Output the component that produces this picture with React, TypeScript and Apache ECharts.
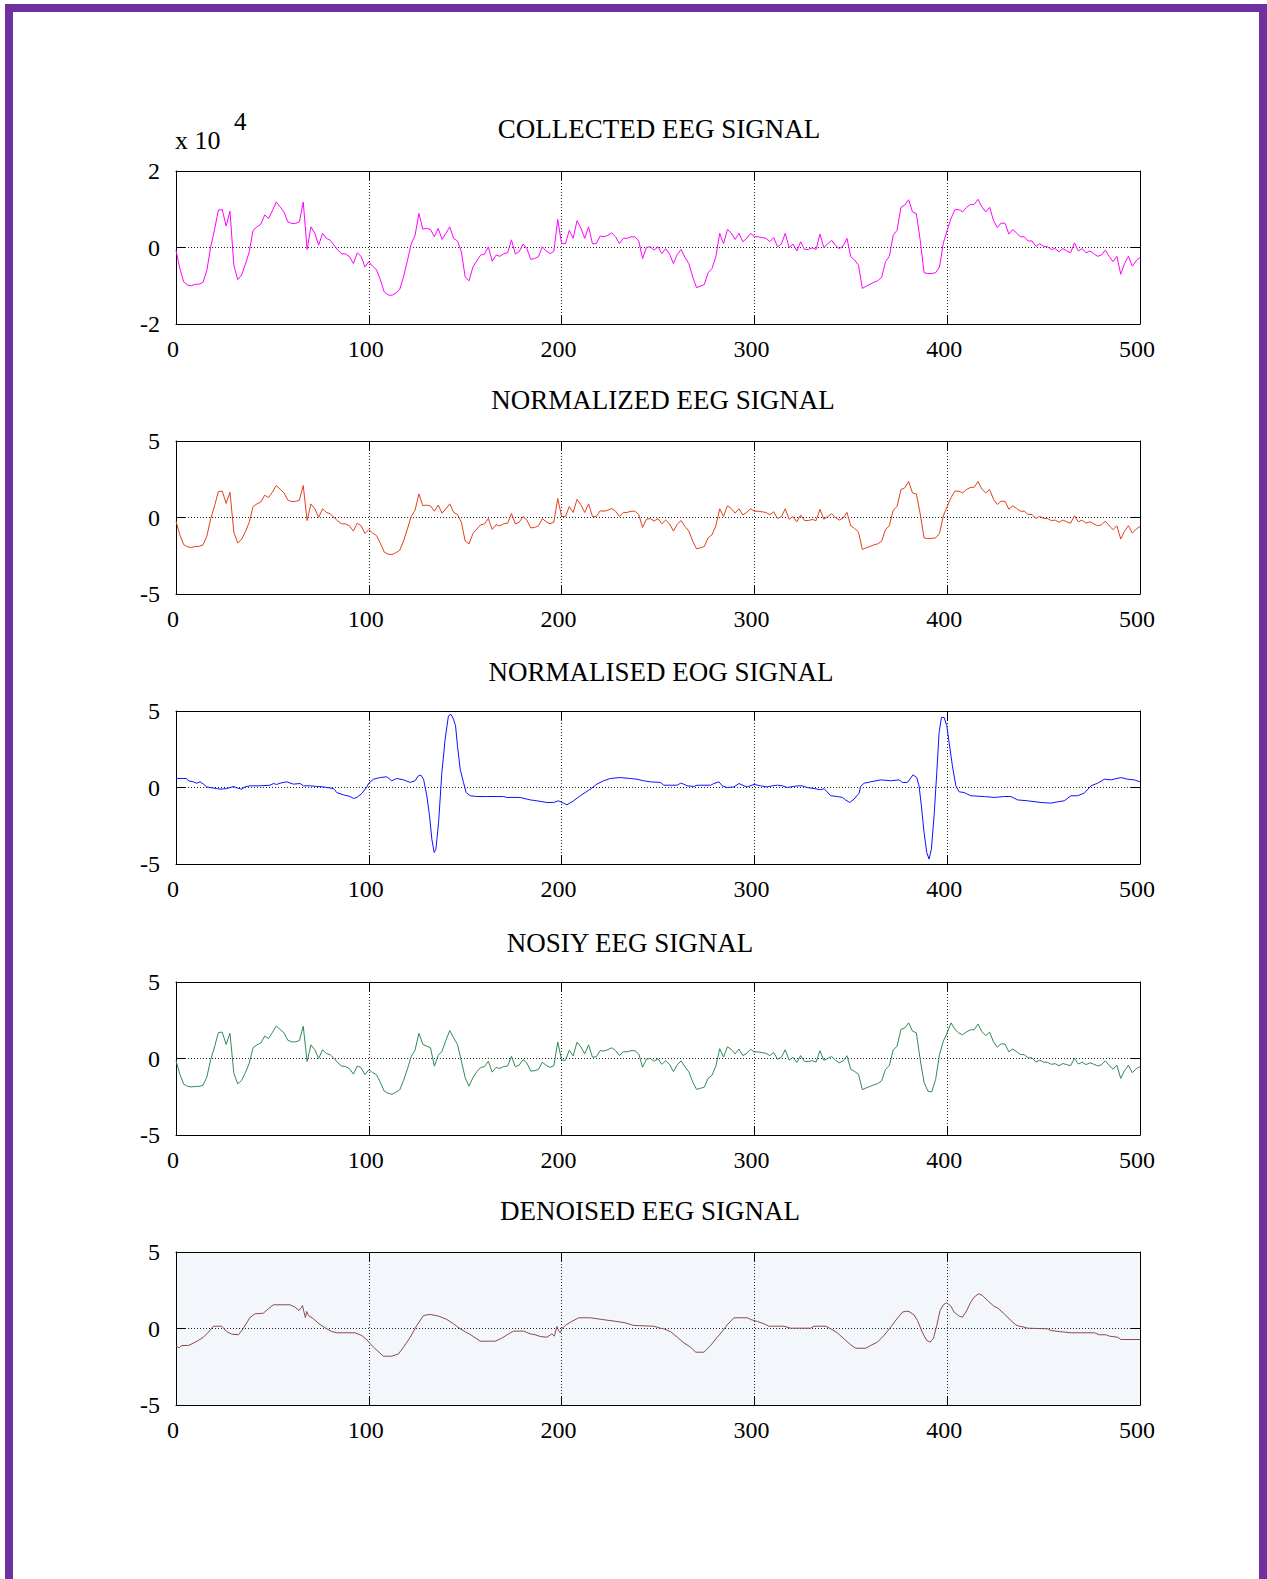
import React, { useEffect, useRef } from "react";
import * as echarts from "echarts";

const FONT = '"Liberation Serif", "Times New Roman", serif';

// x axis
const X_MIN = 0;
const X_MAX = 500;
const X_INTERVAL = 100;
const SAMPLE_STEP = 2; // uniform series are sampled every 2 samples

const titles = [
  "COLLECTED EEG SIGNAL",
  "NORMALIZED EEG SIGNAL",
  "NORMALISED EOG SIGNAL",
  "NOSIY EEG SIGNAL",
  "DENOISED EEG SIGNAL",
];

// Collected EEG (values in units of 10^4), t = 0,2,...,500
const collectedEeg = [
  -0.07, -0.55, -0.9, -0.98, -1.0, -0.96, -0.96, -0.91, -0.6, 0.02,
  0.47, 0.98, 0.99, 0.56, 0.95, -0.46, -0.84, -0.72, -0.44, -0.11,
  0.45, 0.54, 0.61, 0.85, 0.76, 0.96, 1.19, 1.06, 0.93, 0.67,
  0.63, 0.63, 0.67, 1.19, -0.05, 0.54, 0.37, 0.06, 0.37, 0.24,
  0.19, 0.06, -0.07, -0.16, -0.17, -0.24, -0.42, -0.14, -0.23, -0.51,
  -0.37, -0.49, -0.58, -0.85, -1.16, -1.24, -1.25, -1.19, -1.1, -0.77,
  -0.35, 0.09, 0.32, 0.89, 0.48, 0.5, 0.47, 0.28, 0.5, 0.21,
  0.37, 0.54, 0.24, 0.17, -0.11, -0.77, -0.87, -0.51, -0.35, -0.2,
  -0.17, 0.02, -0.36, -0.2, -0.23, -0.16, -0.14, 0.2, -0.17, -0.11,
  0.09, -0.03, -0.31, -0.29, -0.24, 0.02, -0.09, -0.16, -0.1, 0.73,
  0.1, 0.1, 0.45, 0.24, 0.7, 0.51, 0.24, 0.54, 0.1, 0.1,
  0.3, 0.28, 0.32, 0.38, 0.28, 0.1, 0.24, 0.24, 0.28, 0.28,
  0.17, -0.29, 0.0, 0.02, -0.07, 0.02, -0.16, -0.03, -0.17, -0.42,
  -0.18, -0.05, -0.26, -0.42, -0.77, -1.05, -1.01, -0.97, -0.66, -0.55,
  -0.24, 0.37, 0.1, 0.47, 0.38, 0.21, 0.37, 0.15, 0.24, 0.37,
  0.28, 0.28, 0.26, 0.24, 0.15, 0.26, 0.02, 0.09, 0.37, 0.0,
  0.09, -0.09, 0.15, -0.05, -0.05, -0.01, -0.05, 0.35, 0.0, 0.09,
  0.19, 0.06, -0.03, 0.04, 0.24, -0.24, -0.33, -0.46, -1.07, -1.01,
  -0.96, -0.91, -0.87, -0.78, -0.37, -0.23, 0.32, 0.45, 1.05, 1.11,
  1.25, 0.93, 0.89, 0.19, -0.66, -0.68, -0.68, -0.66, -0.51, 0.12,
  0.45, 0.76, 0.99, 0.99, 0.93, 1.05, 1.12, 1.13, 1.26, 1.06,
  0.93, 1.05, 0.71, 0.52, 0.64, 0.63, 0.35, 0.47, 0.38, 0.28,
  0.28, 0.17, 0.17, 0.03, 0.1, 0.03, 0.02, -0.05, -0.03, -0.11,
  -0.03, -0.09, -0.14, 0.12, -0.09, -0.03, -0.14, -0.09, -0.16, -0.23,
  -0.2, -0.07, -0.23, -0.37, -0.23, -0.7, -0.42, -0.23, -0.49, -0.35,
  -0.26,
];

// Normalized EEG, t = 0,2,...,500
const normalizedEeg = [
  -0.24, -1.13, -1.78, -1.92, -1.96, -1.89, -1.89, -1.79, -1.22, -0.07,
  0.76, 1.7, 1.72, 0.92, 1.65, -0.96, -1.66, -1.44, -0.92, -0.31,
  0.72, 0.89, 1.02, 1.46, 1.3, 1.66, 2.09, 1.85, 1.61, 1.13,
  1.05, 1.05, 1.13, 2.09, -0.2, 0.89, 0.57, 0.0, 0.57, 0.33,
  0.24, 0.0, -0.24, -0.41, -0.42, -0.55, -0.89, -0.37, -0.54, -1.05,
  -0.79, -1.02, -1.18, -1.68, -2.26, -2.4, -2.42, -2.31, -2.15, -1.54,
  -0.76, 0.06, 0.48, 1.54, 0.78, 0.81, 0.76, 0.41, 0.81, 0.28,
  0.57, 0.89, 0.33, 0.2, -0.31, -1.54, -1.72, -1.05, -0.76, -0.48,
  -0.42, -0.07, -0.78, -0.48, -0.54, -0.41, -0.37, 0.26, -0.42, -0.31,
  0.06, -0.17, -0.68, -0.65, -0.55, -0.07, -0.28, -0.41, -0.3, 1.24,
  0.07, 0.07, 0.72, 0.33, 1.18, 0.83, 0.33, 0.89, 0.07, 0.07,
  0.44, 0.41, 0.48, 0.59, 0.41, 0.07, 0.33, 0.33, 0.41, 0.41,
  0.2, -0.65, -0.11, -0.07, -0.24, -0.07, -0.41, -0.17, -0.42, -0.89,
  -0.44, -0.2, -0.59, -0.89, -1.54, -2.05, -1.98, -1.9, -1.33, -1.13,
  -0.55, 0.57, 0.07, 0.76, 0.59, 0.28, 0.57, 0.17, 0.33, 0.57,
  0.41, 0.41, 0.37, 0.33, 0.17, 0.37, -0.07, 0.06, 0.57, -0.11,
  0.06, -0.28, 0.17, -0.2, -0.2, -0.13, -0.2, 0.54, -0.11, 0.06,
  0.24, 0.0, -0.17, -0.04, 0.33, -0.55, -0.72, -0.96, -2.09, -1.98,
  -1.89, -1.79, -1.72, -1.55, -0.79, -0.54, 0.48, 0.72, 1.83, 1.94,
  2.35, 1.61, 1.54, 0.24, -1.33, -1.37, -1.37, -1.33, -1.05, 0.11,
  0.72, 1.3, 1.72, 1.72, 1.61, 1.83, 1.96, 1.98, 2.35, 1.85,
  1.61, 1.83, 1.2, 0.85, 1.07, 1.05, 0.54, 0.76, 0.59, 0.41,
  0.41, 0.2, 0.2, -0.06, 0.07, -0.06, -0.07, -0.2, -0.17, -0.31,
  -0.17, -0.28, -0.37, 0.11, -0.28, -0.17, -0.37, -0.28, -0.41, -0.54,
  -0.48, -0.24, -0.54, -0.79, -0.54, -1.41, -0.89, -0.54, -1.02, -0.76,
  -0.59,
];

// Noisy EEG, t = 0,2,...,500
const noisyEeg = [
  -0.14, -1.03, -1.68, -1.82, -1.86, -1.83, -1.82, -1.75, -1.21, -0.07,
  0.76, 1.7, 1.72, 0.92, 1.65, -0.96, -1.66, -1.44, -0.92, -0.31,
  0.72, 0.89, 1.02, 1.46, 1.3, 1.7, 2.13, 1.9, 1.67, 1.19,
  1.09, 1.09, 1.17, 2.11, -0.2, 0.89, 0.57, 0.0, 0.57, 0.33,
  0.24, 0.0, -0.3, -0.5, -0.52, -0.66, -1.02, -0.49, -0.6, -1.05,
  -0.74, -0.92, -1.06, -1.56, -2.13, -2.27, -2.34, -2.21, -2.06, -1.45,
  -0.7, 0.13, 0.56, 1.65, 0.92, 0.81, 0.7, -0.5, 0.2, 0.48,
  1.2, 1.83, 1.35, 0.92, -0.17, -1.26, -1.81, -1.25, -0.87, -0.59,
  -0.53, -0.18, -0.89, -0.59, -0.65, -0.52, -0.49, 0.14, -0.54, -0.43,
  -0.07, -0.3, -0.82, -0.8, -0.71, -0.24, -0.45, -0.58, -0.47, 1.08,
  -0.1, -0.12, 0.54, 0.17, 1.07, 0.75, 0.31, 0.89, 0.09, 0.11,
  0.51, 0.49, 0.58, 0.7, 0.52, 0.19, 0.44, 0.44, 0.51, 0.51,
  0.3, -0.57, -0.04, 0.0, -0.18, -0.01, -0.38, -0.14, -0.39, -0.86,
  -0.41, -0.15, -0.55, -0.87, -1.53, -2.02, -1.95, -1.87, -1.3, -1.1,
  -0.5, 0.64, 0.09, 0.76, 0.6, 0.3, 0.62, 0.19, 0.34, 0.6,
  0.43, 0.43, 0.38, 0.34, 0.19, 0.39, -0.04, 0.08, 0.57, -0.11,
  0.08, -0.26, 0.19, -0.2, -0.2, -0.14, -0.23, 0.51, -0.12, 0.0,
  0.14, -0.11, -0.28, -0.16, 0.18, -0.71, -0.85, -1.03, -2.04, -1.92,
  -1.82, -1.72, -1.64, -1.46, -0.71, -0.46, 0.56, 0.8, 1.9, 2.0,
  2.33, 1.79, 1.68, -0.07, -1.55, -2.14, -2.18, -1.37, 0.26, 1.13,
  1.68, 2.33, 1.9, 1.67, 1.55, 1.74, 1.87, 1.88, 2.25, 1.75,
  1.5, 1.72, 1.09, 0.74, 0.96, 0.94, 0.43, 0.63, 0.45, 0.26,
  0.25, 0.04, 0.04, -0.23, -0.11, -0.24, -0.25, -0.38, -0.34, -0.47,
  -0.33, -0.4, -0.47, 0.01, -0.36, -0.24, -0.4, -0.28, -0.37, -0.49,
  -0.41, -0.15, -0.45, -0.7, -0.44, -1.3, -0.79, -0.44, -0.93, -0.67,
  -0.52,
];

// Normalised EOG, [sample, value]
const eogPoints = [
  [0, 0.59], [5.5, 0.59], [6.4, 0.44], [9, 0.37], [10.7, 0.28], [12.5, 0.37], [14.2, 0.22],
  [15.9, 0.04], [17.6, 0], [19.4, -0.04], [21.1, -0.07], [22.8, -0.11], [26.3, -0.07],
  [29.8, 0.07], [31.5, -0.02], [34.1, -0.11], [35.8, 0.04], [38.4, 0.11], [43.6, 0.11],
  [48.8, 0.15], [50.5, 0.26], [52.2, 0.2], [54, 0.28], [57.4, 0.37], [60.9, 0.22],
  [64.4, 0.26], [66.1, 0.11], [69.6, 0.11], [73, 0.07], [76.5, 0.04], [81.7, -0.07],
  [83.4, -0.33], [86.9, -0.48], [90.3, -0.59], [92, -0.72], [93.8, -0.65], [96.4, -0.39],
  [99, 0.04], [100, 0.28], [102.4, 0.54], [105.9, 0.65], [109.3, 0.7], [111.9, 0.44],
  [114.5, 0.59], [118, 0.5], [121.5, 0.33], [124, 0.44], [125.7, 0.76], [127, 0.81],
  [128.4, 0.54], [130.1, -0.54], [131.5, -1.85], [132.7, -3.38], [133.9, -4.25],
  [134.8, -4.03], [136.2, -2.29], [137.9, 0.98], [139.6, 3.16], [141.3, 4.68],
  [142.6, 4.79], [143.9, 4.47], [145, 4.03], [146, 2.72], [147.4, 1.2], [149.1, 0.33],
  [150.5, -0.33], [152.6, -0.54], [156, -0.59], [161.2, -0.59], [169.9, -0.59],
  [171.6, -0.65], [178.5, -0.65], [183.7, -0.81], [187.2, -0.87], [192.4, -0.98],
  [195.8, -0.98], [198.4, -0.87], [200.2, -0.98], [202.8, -1.13], [206.2, -0.87],
  [209.7, -0.54], [214.9, -0.11], [218.3, 0.22], [221.8, 0.44], [225.3, 0.59],
  [230.4, 0.65], [235.6, 0.59], [239.1, 0.54], [242.6, 0.44], [246, 0.37], [251.2, 0.33],
  [253, 0.15], [260, 0.15], [261.7, 0.28], [263.4, 0.22], [265.1, 0.11], [268.6, 0.07],
  [270.3, 0.15], [277.3, 0.15], [279, 0.26], [281.6, 0.37], [283.3, 0.11], [285.9, 0],
  [289.4, 0.04], [292, 0.26], [294.6, 0.11], [296.3, 0.04], [299.8, 0.2], [303.2, 0.11],
  [306.7, 0.04], [309.3, 0.11], [311.9, 0.15], [314.5, 0.11], [317.1, 0], [322.3, 0.11],
  [324.8, 0.11], [327.4, 0], [330.9, -0.07], [334.4, -0.15], [336.1, -0.07],
  [339.6, -0.54], [343, -0.59], [345.6, -0.65], [347.3, -0.81], [349.4, -0.98],
  [351.7, -0.76], [354.3, -0.37], [355.1, 0.07], [356.9, 0.28], [360.3, 0.37],
  [365.5, 0.5], [370.7, 0.44], [375, 0.5], [376.8, 0.33], [379.4, 0.33], [382.3, 0.83],
  [384.2, 0.65], [385.4, 0.11], [386.6, -1.2], [388, -2.94], [389.4, -4.25],
  [390.6, -4.68], [391.8, -4.03], [393.2, -1.85], [394.6, 0.98], [395.8, 3.59],
  [397, 4.58], [398.4, 4.58], [399.8, 4.03], [401, 2.94], [402.7, 1.42], [404.5, 0.11],
  [406.2, -0.28], [408.8, -0.33], [412.2, -0.54], [419.2, -0.59], [424.4, -0.65],
  [429.6, -0.59], [433, -0.59], [436.5, -0.81], [441.7, -0.87], [448.6, -0.98],
  [453.8, -1.02], [457.2, -0.94], [460.7, -0.87], [464.2, -0.54], [467.6, -0.54],
  [471.1, -0.37], [474.6, 0.11], [478, 0.28], [481.5, 0.54], [484.9, 0.5], [490.1, 0.65],
  [493.6, 0.54], [497, 0.5], [500, 0.37],
];

// Denoised EEG, [sample, value]
const denoisedPoints = [
  [0, -1.15], [1.7, -1.26], [2.9, -1.11], [6.4, -1.11], [9, -0.96], [11.6, -0.78],
  [14.2, -0.57], [16.8, -0.24], [19.4, 0.15], [23.7, 0.15], [26.3, -0.2], [28.9, -0.37],
  [32.4, -0.41], [35, 0.02], [38.4, 0.72], [41, 0.96], [45.3, 1.0], [47.9, 1.29],
  [50.5, 1.55], [59.2, 1.55], [61.8, 1.39], [63.8, 1.18], [64.7, 1.33], [65.6, 1.5],
  [66.4, 1.07], [67.1, 0.72], [67.8, 1.11], [68.7, 0.85], [71.3, 0.63], [74.7, 0.26],
  [78.2, -0.02], [80.8, -0.2], [83.4, -0.28], [92.9, -0.28], [96.4, -0.46], [99, -0.74],
  [102.4, -1.22], [107.6, -1.81], [111.9, -1.81], [115.4, -1.66], [118, -1.22],
  [121.5, -0.57], [124.9, 0.2], [128.4, 0.85], [131.8, 0.92], [136.2, 0.81],
  [140.5, 0.59], [143.9, 0.31], [147.4, -0.02], [150.9, -0.28], [153.5, -0.46],
  [157.8, -0.83], [165.6, -0.83], [169, -0.63], [173.4, -0.28], [175.1, -0.17],
  [180.3, -0.17], [183.7, -0.35], [186.3, -0.41], [188.9, -0.52], [192.4, -0.57],
  [195, -0.35], [196.2, -0.5], [197.6, 0.13], [198.4, -0.13], [199.3, -0.28],
  [200.2, -0.02], [201.9, 0.2], [204.5, 0.41], [208.8, 0.7], [214.9, 0.7], [220.9, 0.59],
  [228.7, 0.46], [233, 0.37], [237.4, 0.2], [247.8, 0.15], [251.2, 0.02],
  [253, -0.02], [256.5, -0.2], [260, -0.57], [263.4, -0.94], [266.9, -1.22],
  [269.5, -1.55], [273.8, -1.55], [277.3, -1.11], [280.7, -0.57], [283.3, -0.2],
  [285.9, 0.24], [289.4, 0.7], [296.3, 0.7], [298, 0.59], [301.5, 0.46], [305, 0.31],
  [307.5, 0.15], [315.3, 0.15], [318.8, 0.02], [329.2, 0.02], [330.9, 0.15], [337, 0.15],
  [339.6, -0.02], [343, -0.28], [346.5, -0.68], [350, -1.07], [352.5, -1.29],
  [357.7, -1.29], [360.3, -1.11], [363.8, -0.89], [367.2, -0.46], [370.7, 0.09],
  [374.2, 0.68], [376.8, 1.07], [378.5, 1.13], [380.2, 1.11], [382.8, 0.89],
  [384.6, 0.52], [387.2, -0.28], [389.4, -0.78], [391.1, -0.89], [392.9, -0.63],
  [394.6, 0.2], [396.3, 1.18], [398, 1.55], [399.8, 1.68], [401.9, 1.46], [403.6, 1.07],
  [406.2, 0.81], [407.9, 0.74], [409.7, 1.07], [412.2, 1.72], [414, 2.05], [416.2, 2.27],
  [418.3, 2.16], [420.9, 1.83], [424.4, 1.44], [426.1, 1.35], [429.6, 0.96], [433, 0.52],
  [435.6, 0.24], [437.3, 0.15], [439.9, 0.09], [441.7, 0.02], [452, -0.02],
  [453.8, -0.13], [458.1, -0.2], [464.2, -0.28], [476.3, -0.28], [478.9, -0.41],
  [482.3, -0.41], [484.1, -0.5], [488.4, -0.57], [490.1, -0.72], [500, -0.72],
];

const uniform = (arr: number[]) => arr.map((v, i) => [i * SAMPLE_STEP, v]);

const panels = [
  { title: titles[0], data: uniform(collectedEeg), min: -2, max: 2, interval: 2, color: "#ff00ff", top: 171, bg: null, tx: 659, ty: 129 },
  { title: titles[1], data: uniform(normalizedEeg), min: -5, max: 5, interval: 5, color: "#e2401a", top: 441, bg: null, tx: 663, ty: 400 },
  { title: titles[2], data: eogPoints, min: -5, max: 5, interval: 5, color: "#1010ff", top: 711, bg: null, tx: 661, ty: 672 },
  { title: titles[3], data: uniform(noisyEeg), min: -5, max: 5, interval: 5, color: "#2e8b57", top: 982, bg: null, tx: 630, ty: 943 },
  { title: titles[4], data: denoisedPoints, min: -5, max: 5, interval: 5, color: "#8b4a4a", top: 1252, bg: "#f3f7fc", tx: 650, ty: 1211 },
];

const GRID_LEFT = 176;
const GRID_WIDTH = 964;
const GRID_HEIGHT = 153;

function buildOption() {
  const grid = panels.map((p) => ({
    left: GRID_LEFT,
    top: p.top,
    width: GRID_WIDTH,
    height: GRID_HEIGHT,
    show: !!p.bg,
    backgroundColor: p.bg || "transparent",
    borderWidth: 0,
  }));
  const axisLine = { show: true, onZero: false, lineStyle: { color: "#000", width: 1 } };
  const axisTick = { show: true, inside: true, length: 9, lineStyle: { color: "#000", width: 1 } };
  const splitLine = { show: true, lineStyle: { color: "#222", width: 1, type: [1, 2] } };
  const labelStyle = { color: "#000", fontSize: 24, fontFamily: FONT };

  const xAxis: any[] = [];
  const yAxis: any[] = [];
  const series: any[] = [];
  panels.forEach((p, i) => {
    xAxis.push({
      type: "value", gridIndex: i, min: X_MIN, max: X_MAX, interval: X_INTERVAL, position: "bottom",
      axisLine, axisTick, splitLine,
      axisLabel: { ...labelStyle, margin: 13, padding: [0, 6, 0, 0] },
    });
    xAxis.push({
      type: "value", gridIndex: i, min: X_MIN, max: X_MAX, interval: X_INTERVAL, position: "top",
      axisLine, axisTick, splitLine: { show: false }, axisLabel: { show: false },
    });
    yAxis.push({
      type: "value", gridIndex: i, min: p.min, max: p.max, interval: p.interval, position: "left",
      axisLine, axisTick, splitLine,
      axisLabel: { ...labelStyle, margin: 16, padding: [0, 0, 6, 0] },
    });
    yAxis.push({
      type: "value", gridIndex: i, min: p.min, max: p.max, interval: p.interval, position: "right",
      axisLine, axisTick, splitLine: { show: false }, axisLabel: { show: false },
    });
    series.push({
      type: "line", xAxisIndex: 2 * i, yAxisIndex: 2 * i, data: p.data,
      showSymbol: false, symbol: "none", silent: true,
      lineStyle: { width: 1, color: p.color }, itemStyle: { color: p.color },
    });
  });

  const graphic: any[] = [
    {
      type: "rect", silent: true, z: 100,
      shape: { x: 9, y: 8, width: 1254, height: 1700 },
      style: { fill: "none", stroke: "#7030a0", lineWidth: 8 },
    },
    { type: "text", x: 175, y: 140, style: { text: "x 10", fill: "#000", fontSize: 26, fontFamily: FONT, align: "left", verticalAlign: "middle" } },
    { type: "text", x: 234, y: 121, style: { text: "4", fill: "#000", fontSize: 25, fontFamily: FONT, align: "left", verticalAlign: "middle" } },
    ...panels.map((p) => ({
      type: "text", x: p.tx, y: p.ty,
      style: { text: p.title, fill: "#000", fontSize: 27, fontFamily: FONT, align: "center", verticalAlign: "middle" },
    })),
  ];

  return {
    animation: false,
    backgroundColor: "#ffffff",
    grid, xAxis, yAxis, series, graphic,
  };
}

export default function App() {
  const ref = useRef<HTMLDivElement>(null);
  useEffect(() => {
    if (!ref.current) return;
    const chart = echarts.init(ref.current, null, { renderer: "svg" });
    chart.setOption(buildOption() as any);
    return () => chart.dispose();
  }, []);
  return (
    <div
      ref={ref}
      style={{ position: "absolute", left: 0, top: 0, width: 1267, height: 1579, background: "#fff" }}
    />
  );
}
